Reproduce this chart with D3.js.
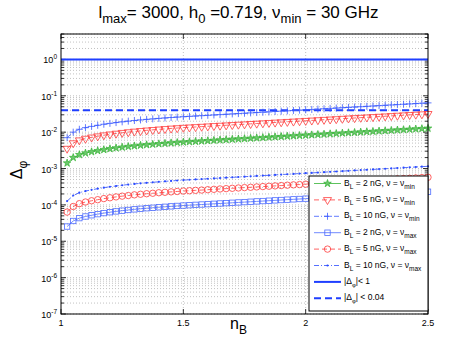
<!DOCTYPE html>
<html>
<head>
<meta charset="utf-8">
<script src="https://d3js.org/d3.v7.min.js"></script>
<style>
body { margin: 0; background: #fff; }
text { font-family: "Liberation Sans", Arial, sans-serif; }
</style>
</head>
<body>
<div id="my_dataviz"></div>
<script>
// x values (n_B)
var nB = [1.025,1.05,1.075,1.1,1.125,1.15,1.175,1.2,1.225,1.25,1.275,1.3,1.325,1.35,1.375,1.4,1.425,1.45,1.475,1.5,
  1.525,1.55,1.575,1.6,1.625,1.65,1.675,1.7,1.725,1.75,1.775,1.8,1.825,1.85,1.875,1.9,1.925,1.95,1.975,2.0,
  2.025,2.05,2.075,2.1,2.125,2.15,2.175,2.2,2.225,2.25,2.275,2.3,2.325,2.35,2.375,2.4,2.425,2.45,2.475,2.5];

// nu = nu_min  (units of 1e-3)
var b2min = [1.41,2.00,2.40,2.66,2.88,3.09,3.30,3.49,3.67,3.85,4.02,4.18,4.34,4.49,4.63,4.78,4.92,5.06,5.19,5.32,
  5.44,5.56,5.68,5.81,5.94,6.07,6.20,6.34,6.48,6.62,6.77,6.92,7.07,7.23,7.39,7.55,7.72,7.89,8.06,8.24,
  8.42,8.61,8.80,9.00,9.19,9.40,9.61,9.82,10.03,10.26,10.48,10.72,10.95,11.19,11.44,11.69,11.95,12.22,12.49,12.76];
var b5min = [3.53,5.00,6.00,6.65,7.20,7.73,8.25,8.73,9.18,9.63,10.05,10.45,10.85,11.23,11.58,11.95,12.30,12.65,12.98,13.30,
  13.60,13.90,14.20,14.53,14.85,15.18,15.50,15.85,16.20,16.55,16.93,17.30,17.68,18.08,18.48,18.88,19.30,19.73,20.15,20.60,
  21.05,21.53,22.00,22.50,22.98,23.50,24.03,24.55,25.08,25.65,26.20,26.80,27.38,27.98,28.60,29.23,29.88,30.55,31.23,31.90];
var b10min = [7.05,10.0,12.0,13.3,14.4,15.45,16.5,17.45,18.35,19.25,20.1,20.9,21.7,22.45,23.15,23.9,24.6,25.3,25.95,26.6,
  27.2,27.8,28.4,29.05,29.7,30.35,31.0,31.7,32.4,33.1,33.85,34.6,35.35,36.15,36.95,37.75,38.6,39.45,40.3,41.2,
  42.1,43.05,44.0,45.0,45.95,47.0,48.05,49.1,50.15,51.3,52.4,53.6,54.75,55.95,57.2,58.45,59.75,61.1,62.45,63.8];

// nu = nu_max  (units of 1e-5)
var b2max = [2.54,3.61,4.33,4.80,5.19,5.57,5.95,6.29,6.62,6.94,7.25,7.54,7.83,8.10,8.35,8.62,8.87,9.12,9.36,9.59,
  9.81,10.02,10.24,10.48,10.71,10.94,11.18,11.43,11.68,11.94,12.21,12.48,12.75,13.04,13.32,13.61,13.92,14.23,14.53,14.86,
  15.18,15.52,15.87,16.23,16.57,16.95,17.33,17.71,18.08,18.50,18.90,19.33,19.74,20.18,20.63,21.08,21.55,22.03,22.52,23.01];
var b5max = [6.35,9.03,10.8,12.0,13.0,13.9,14.9,15.7,16.6,17.4,18.1,18.9,19.6,20.3,20.9,21.6,22.2,22.8,23.4,24.0,
  24.5,25.1,25.6,26.2,26.8,27.4,28.0,28.6,29.2,29.9,30.5,31.2,31.9,32.6,33.3,34.0,34.8,35.6,36.3,37.2,
  38.0,38.8,39.7,40.6,41.4,42.4,43.3,44.3,45.2,46.3,47.3,48.3,49.4,50.5,51.6,52.7,53.9,55.1,56.3,57.5];
var b10max = [12.7,18.1,21.7,24.0,26.0,27.9,29.8,31.5,33.1,34.7,36.3,37.7,39.2,40.5,41.8,43.1,44.4,45.6,46.8,48.0,
  49.1,50.1,51.2,52.4,53.6,54.7,55.9,57.2,58.4,59.7,61.1,62.4,63.8,65.2,66.6,68.1,69.6,71.2,72.7,74.3,
  75.9,77.6,79.4,81.2,82.9,84.8,86.7,88.6,90.4,92.5,94.5,96.7,98.7,100.9,103.2,105.4,107.8,110.2,112.6,115.1];

var limits = [1, 0.04];
var xTicks = [1, 1.5, 2, 2.5];
var yExps = [0, -1, -2, -3, -4, -5, -6, -7];

var series = [
  {vals: b2min, unit: 1e-3, color: "#33b233", dash: null, marker: "star", label: ["2", "min"]},
  {vals: b5min, unit: 1e-3, color: "#ff3b3b", dash: "5,3", marker: "tri", label: ["5", "min"]},
  {vals: b10min, unit: 1e-3, color: "#3b5bff", dash: "5,2,1,2", marker: "plus", label: ["10", "min"]},
  {vals: b2max, unit: 1e-5, color: "#4d6bff", dash: null, marker: "square", label: ["2", "max"]},
  {vals: b5max, unit: 1e-5, color: "#ff3b3b", dash: "5,3", marker: "circle", label: ["5", "max"]},
  {vals: b10max, unit: 1e-5, color: "#2b4bff", dash: "5,2,1,2", marker: "dot", label: ["10", "max"]}
];

var margin = {top: 34, left: 61, right: 45, bottom: 40}, width = 367, height = 280;

var svg = d3.select("#my_dataviz")
  .append("svg")
    .attr("width", 473)
    .attr("height", 354)
  .append("g")
    .attr("transform", "translate(" + margin.left + "," + margin.top + ")");

var x = d3.scaleLinear().domain([1, 2.5]).range([0, width]);
var y = d3.scaleLog().domain([1e-7, 5]).range([height, 0]);

// grid
var minorVals = [];
for (var k = -7; k <= 0; k++) {
  for (var m = 1; m <= 9; m++) {
    var v = m * Math.pow(10, k);
    if (v <= 5) minorVals.push(v);
  }
}
svg.selectAll(".hgrid").data(minorVals).enter().append("line")
  .attr("x1", 0).attr("x2", width)
  .attr("y1", function(d) { return y(d); }).attr("y2", function(d) { return y(d); })
  .style("stroke", "#a8a8a8").style("stroke-width", 0.7).style("stroke-dasharray", "1,2");
svg.selectAll(".vgrid").data([1.5, 2]).enter().append("line")
  .attr("y1", 0).attr("y2", height)
  .attr("x1", function(d) { return x(d); }).attr("x2", function(d) { return x(d); })
  .style("stroke", "#a8a8a8").style("stroke-width", 0.7).style("stroke-dasharray", "1,2");

// ticks (inward, both sides)
minorVals.forEach(function(v) {
  var major = Math.abs(Math.log10(v) - Math.round(Math.log10(v))) < 1e-9;
  var len = major ? 5 : 3;
  svg.append("line").attr("x1", 0).attr("x2", len).attr("y1", y(v)).attr("y2", y(v))
    .style("stroke", "#000").style("stroke-width", 0.8);
  svg.append("line").attr("x1", width).attr("x2", width - len).attr("y1", y(v)).attr("y2", y(v))
    .style("stroke", "#000").style("stroke-width", 0.8);
});
xTicks.forEach(function(t) {
  svg.append("line").attr("x1", x(t)).attr("x2", x(t)).attr("y1", height).attr("y2", height - 5)
    .style("stroke", "#000").style("stroke-width", 0.8);
  svg.append("line").attr("x1", x(t)).attr("x2", x(t)).attr("y1", 0).attr("y2", 5)
    .style("stroke", "#000").style("stroke-width", 0.8);
  svg.append("text").attr("x", x(t)).attr("y", height + 12)
    .attr("text-anchor", "middle").style("font-size", "9px").text(t);
});

// y tick labels 10^k
yExps.forEach(function(e) {
  var t = svg.append("text").attr("x", -4).attr("y", y(Math.pow(10, e)) + 4)
    .attr("text-anchor", "end").style("font-size", "9px");
  t.append("tspan").text("10");
  t.append("tspan").attr("dy", -4).style("font-size", "6.5px").text(e);
});

// threshold lines
svg.append("line").attr("x1", 0).attr("x2", width)
  .attr("y1", y(limits[0])).attr("y2", y(limits[0]))
  .style("stroke", "#1f3fff").style("stroke-width", 2);
svg.append("line").attr("x1", 0).attr("x2", width)
  .attr("y1", y(limits[1])).attr("y2", y(limits[1]))
  .style("stroke", "#1f3fff").style("stroke-width", 2).style("stroke-dasharray", "7,4");

// marker drawing
function drawMarker(g, type, color) {
  if (type == "star") {
    g.append("path").attr("d", d3.symbol().type(d3.symbolStar).size(18))
      .style("fill", "#6cc86c").style("stroke", color).style("stroke-width", 0.7);
  } else if (type == "tri") {
    g.append("path").attr("d", d3.symbol().type(d3.symbolTriangle).size(28))
      .attr("transform", "rotate(180)")
      .style("fill", "none").style("stroke", color).style("stroke-width", 0.8);
  } else if (type == "plus") {
    g.append("path").attr("d", "M-3.5,0H3.5M0,-3.5V3.5")
      .style("stroke", color).style("stroke-width", 0.8);
  } else if (type == "square") {
    g.append("rect").attr("x", -2.7).attr("y", -2.7).attr("width", 5.4).attr("height", 5.4)
      .style("fill", "none").style("stroke", color).style("stroke-width", 0.8);
  } else if (type == "circle") {
    g.append("circle").attr("r", 3.2)
      .style("fill", "none").style("stroke", color).style("stroke-width", 0.8);
  } else if (type == "dot") {
    g.append("circle").attr("r", 1.1).style("fill", color);
  }
}

var line = d3.line()
  .x(function(d) { return x(d[0]); })
  .y(function(d) { return y(d[1]); });

series.forEach(function(s) {
  var pts = nB.map(function(n, i) { return [n, s.vals[i] * s.unit]; });
  svg.append("path").datum(pts)
    .attr("d", line)
    .style("fill", "none").style("stroke", s.color).style("stroke-width", 0.8)
    .style("stroke-dasharray", s.dash);
  pts.forEach(function(p) {
    var g = svg.append("g").attr("transform", "translate(" + x(p[0]) + "," + y(p[1]) + ")");
    drawMarker(g, s.marker, s.color);
  });
});

// axes box
svg.append("rect").attr("x", 0).attr("y", 0).attr("width", width).attr("height", height)
  .style("fill", "none").style("stroke", "#000").style("stroke-width", 1);

// legend
var lg = svg.append("g").attr("transform", "translate(" + (width - 119) + "," + 142 + ")");
lg.append("rect").attr("x", 0).attr("y", 0).attr("width", 119).attr("height", 135)
  .style("fill", "#fff").style("stroke", "#000").style("stroke-width", 1);
var rowH = 16.4;
series.forEach(function(s, i) {
  var cy = 7.5 + i * rowH;
  lg.append("line").attr("x1", 5).attr("x2", 32).attr("y1", cy).attr("y2", cy)
    .style("stroke", s.color).style("stroke-width", 0.8).style("stroke-dasharray", s.dash);
  var g = lg.append("g").attr("transform", "translate(18.5," + cy + ")");
  drawMarker(g, s.marker, s.color);
  var t = lg.append("text").attr("x", 35).attr("y", cy + 2).style("font-size", "8.5px");
  t.append("tspan").text("B");
  t.append("tspan").attr("dy", 3).style("font-size", "6.5px").text("L");
  t.append("tspan").attr("dy", -3).text(" = " + s.label[0] + " nG, \u03bd = \u03bd");
  t.append("tspan").attr("dy", 3).style("font-size", "6.5px").text(s.label[1]);
});
var limLab = [["|\u0394", "|< 1", null], ["|\u0394", "| < 0.04", "7,4"]];
limLab.forEach(function(l, j) {
  var cy = 7.5 + (6 + j) * rowH;
  lg.append("line").attr("x1", 5).attr("x2", 32).attr("y1", cy).attr("y2", cy)
    .style("stroke", "#1f3fff").style("stroke-width", 2).style("stroke-dasharray", l[2]);
  var t = lg.append("text").attr("x", 35).attr("y", cy + 2).style("font-size", "8.5px");
  t.append("tspan").text(l[0]);
  t.append("tspan").attr("dy", 3).style("font-size", "6px").text("\u03c6");
  t.append("tspan").attr("dy", -3).text(l[1]);
});

// title
var title = svg.append("text").attr("x", width / 2 - 6).attr("y", -16)
  .attr("text-anchor", "middle").style("font-size", "17px");
title.append("tspan").text("l");
title.append("tspan").attr("dy", 5).style("font-size", "13px").text("max");
title.append("tspan").attr("dy", -5).text("= 3000, h");
title.append("tspan").attr("dy", 5).style("font-size", "13px").text("0");
title.append("tspan").attr("dy", -5).text(" =0.719, \u03bd");
title.append("tspan").attr("dy", 5).style("font-size", "13px").text("min");
title.append("tspan").attr("dy", -5).text(" = 30 GHz");

// x label
var xl = svg.append("text").attr("x", x(1.75) - 6).attr("y", height + 15)
  .attr("text-anchor", "middle").style("font-size", "16px");
xl.append("tspan").text("n");
xl.append("tspan").attr("dy", 5).style("font-size", "12px").text("B");

// y label
var yl = svg.append("text")
  .attr("transform", "translate(" + (-39) + "," + (height / 2 - 4) + ") rotate(-90)")
  .attr("text-anchor", "middle").style("font-size", "16px");
yl.append("tspan").text("\u0394");
yl.append("tspan").attr("dy", 5).style("font-size", "12px").text("\u03c6");
</script>
</body>
</html>
